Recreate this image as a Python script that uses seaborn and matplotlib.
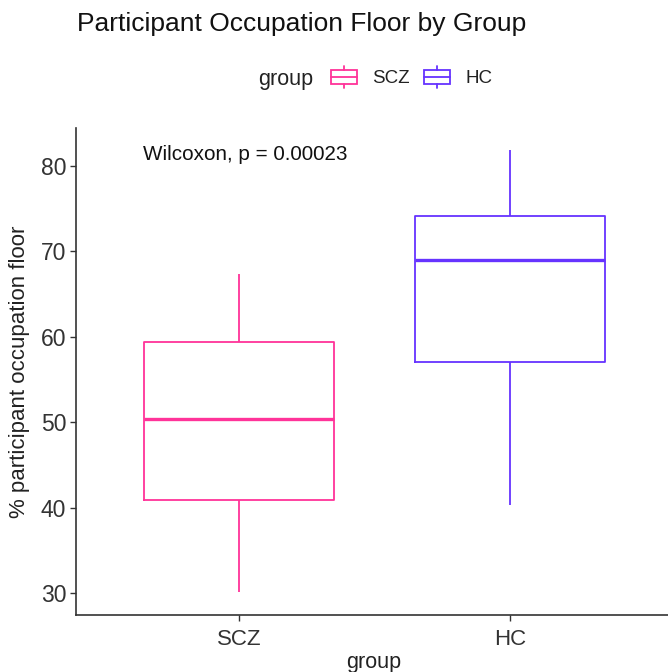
import matplotlib
matplotlib.use("Agg")
import matplotlib.pyplot as plt
import seaborn as sns
import pandas as pd
from matplotlib.patches import Patch, Rectangle
from matplotlib.lines import Line2D
from matplotlib.legend_handler import HandlerBase

# ---- data (five-number summaries) ----
groups = ["SCZ", "HC"]
scz_values = [30.1, 40.9, 50.4, 59.4, 67.3]
hc_values = [40.3, 57.0, 69.0, 74.1, 81.9]
colors = ["#FF3399", "#6633FF"]
y_ticks = [30, 40, 50, 60, 70, 80]
title = "Participant Occupation Floor by Group"
y_label = "% participant occupation floor"
x_label = "group"
stat_label = "Wilcoxon, p = 0.00023"

df = pd.DataFrame({
    "group": ["SCZ"] * len(scz_values) + ["HC"] * len(hc_values),
    "value": scz_values + hc_values,
})

sns.set_theme(style="ticks")
plt.rcParams["font.family"] = ["Liberation Sans", "DejaVu Sans"]

W, H = 668, 672
fig = plt.figure(figsize=(W / 100, H / 100), dpi=100)
fig.patch.set_facecolor("white")

ax_left, ax_right, ax_top, ax_bottom = 76, 673, 128, 615
ax = fig.add_axes([ax_left / W, 1 - ax_bottom / H,
                   (ax_right - ax_left) / W, (ax_bottom - ax_top) / H])

sns.boxplot(data=df, x="group", y="value", hue="group", order=groups,
            hue_order=groups, palette=colors, fill=False, width=0.7,
            linewidth=1.3, whis=1.5, legend=False, ax=ax,
            medianprops=dict(linewidth=2.4),
            capprops=dict(linewidth=0))

ax.set_xlim(-0.6, 1.6)
ax.set_ylim(27.42, 84.45)
ax.set_yticks(y_ticks)

for s in ["top", "right"]:
    ax.spines[s].set_visible(False)
for s in ["left", "bottom"]:
    ax.spines[s].set_color("#333333")
    ax.spines[s].set_linewidth(1.2)
ax.tick_params(axis="both", colors="#333333", labelcolor="#333333",
               length=4, width=1.0, labelsize=16)
ax.tick_params(axis="y", pad=3, labelsize=16.5)
ax.tick_params(axis="x", pad=6)

ax.set_xlabel("")
ax.set_ylabel(y_label, fontsize=16, color="#222222", va="center")
ax.yaxis.set_label_coords(-0.094, 0.5)
fig.text(374 / W, 1 - 668 / H, x_label, fontsize=15.5, color="#222222",
         ha="center", va="baseline")

ax.text(-0.354, 80.7, stat_label, fontsize=14.9, color="#111111",
        ha="left", va="baseline")

fig.text(77 / W, 1 - 31 / H, title, fontsize=19, color="#111111",
         ha="left", va="baseline")

# ---- legend ----
class BoxHandler(HandlerBase):
    def create_artists(self, legend, orig_handle, xdescent, ydescent,
                       width, height, fontsize, trans):
        c = orig_handle.get_edgecolor()
        x0, y0 = -xdescent, -ydescent
        lo, hi = 0.2, 0.8
        rect = Rectangle((x0, y0 + lo * height), width, (hi - lo) * height,
                         fill=False, edgecolor=c, lw=1.3, transform=trans)
        med = Line2D([x0, x0 + width], [y0 + 0.5 * height] * 2, color=c,
                     lw=1.3, transform=trans)
        w1 = Line2D([x0 + width / 2] * 2, [y0, y0 + lo * height], color=c,
                    lw=1.3, transform=trans)
        w2 = Line2D([x0 + width / 2] * 2, [y0 + hi * height, y0 + height],
                    color=c, lw=1.3, transform=trans)
        return [rect, med, w1, w2]

handles = [Patch(edgecolor=c, facecolor="none", label=g)
           for g, c in zip(groups, colors)]
fig.text(258 / W, 1 - 85 / H, "group", fontsize=15.5, color="#222222",
         ha="left", va="baseline")
leg = fig.legend(handles=handles, loc="center left",
                 bbox_to_anchor=(331 / W, 1 - 77 / H), ncol=2, frameon=False,
                 fontsize=13.5, handlelength=1.4, handleheight=1.45,
                 handletextpad=0.8, columnspacing=0.75, borderpad=0,
                 borderaxespad=0, handler_map={Patch: BoxHandler()})
for t in leg.get_texts():
    t.set_color("#222222")

fig.savefig("out.png", dpi=100, facecolor="white")
